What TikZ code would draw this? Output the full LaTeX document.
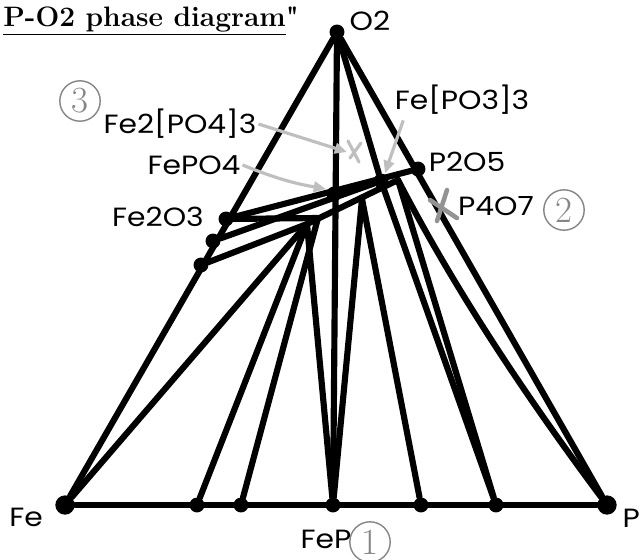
\documentclass[tikz,border=0pt]{standalone}
\usepackage{fontspec}
\usepackage{tikz}
\usetikzlibrary{arrows.meta, positioning, calc}
\newfontfamily\labelfont[FakeStretch=1.13]{Poppins}
\tikzset{
  phase_dot/.style={circle, fill=black, inner sep=0pt, minimum size=8.5pt},
  vertex_dot/.style={circle, fill=black, inner sep=0pt, minimum size=11pt},
  tie_line/.style={line width=3.5pt, line cap=round, line join=round},
  phase_label/.style={font=\labelfont\fontsize{15}{17}\selectfont, inner sep=1pt},
  title_text/.style={font=\fontsize{16}{18}\selectfont\bfseries, anchor=west, inner sep=0pt},
  circ_num/.style={circle, draw=gray!95, line width=0.8pt, minimum size=23pt, inner sep=0pt, text=gray!95, font=\fontsize{21}{21}\selectfont},
  pointer/.style={-{Triangle[length=7pt,width=6pt]}, line width=1.8pt, draw=gray!50},
  cross_mark/.style={line width=1.8pt, line cap=round, draw=gray!50},
  cross_dark/.style={line width=2.6pt, line cap=round, draw=gray!85}
}

\begin{document}
\begin{tikzpicture}[x=0.02cm, y=-0.02cm]
  \useasboundingbox (0,0) rectangle (642,559);

  % --- Title ---
  \node[title_text] (title) at (3,21) {\underline{P-O2 phase diagram}\textquotedbl};

  % --- Corners ---
  \node[phase_dot] (O2) at (337,32) {};
  \node[vertex_dot] (Fe) at (65,505) {};
  \node[vertex_dot] (P) at (607,505) {};

  % --- Fe-P side ---
  \node[phase_dot] (FeP) at (333,505) {};
  \node[phase_dot] (b1) at (197,505) {};
  \node[phase_dot] (b2) at (241,505) {};
  \node[phase_dot] (b4) at (421,505) {};
  \node[phase_dot] (b5) at (496,505) {};

  % --- Fe-O2 side ---
  \node[phase_dot] (Fe2O3) at (226,219) {};
  \node[phase_dot] (l2) at (213,241) {};
  \node[phase_dot] (l3) at (201,265) {};

  % --- P-O2 side ---
  \node[phase_dot] (P2O5) at (418,169) {};

  % --- Inner phases ---
  \node[phase_dot] (FePO4) at (334,194) {};
  \node[phase_dot] (FePO33) at (381,181) {};
  \coordinate (c1) at (307,224);
  \coordinate (c2) at (318,218);
  \coordinate (c4) at (362,199);
  \coordinate (c5) at (398,180);

  % --- Tie lines ---
  \foreach \a/\b in {O2/Fe, O2/P, Fe/P, O2/FeP, O2/FePO33,
                     Fe2O3/P2O5, Fe2O3/c2, l2/FePO33, l3/c1, c1/c5,
                     Fe/c1, b1/c1, b2/c2, FeP/c1, FeP/c4,
                     b4/c4, b5/FePO33, b5/c5} {
    \draw[tie_line] (\a) -- (\b);
  }
  \draw[tie_line] (c5) .. controls (455,290) and (525,395) .. (P);

  % --- Labels ---
  \node[phase_label] (lO2) at (370,21) {O2};
  \node[phase_label] (lFe) at (26,517) {Fe};
  \node[phase_label, anchor=east] (lP) at (642,518) {P};
  \node[phase_label] (lFeP) at (326,539) {FeP};
  \node[phase_label] (lFe2O3) at (158,217) {Fe2O3};
  \node[phase_label] (lFePO4) at (194,165) {FePO4};
  \node[phase_label] (lFe2PO43) at (180,124) {Fe2[PO4]3};
  \node[phase_label] (lFePO33) at (462,100) {Fe[PO3]3};
  \node[phase_label] (lP2O5) at (467,162) {P2O5};
  \node[phase_label] (lP4O7) at (496,206) {P4O7};

  % --- Circled numbers ---
  \node[circ_num] (n1) at (370,542) {1};
  \node[circ_num] (n2) at (564,210) {2};
  \node[circ_num] (n3) at (80,101) {3};

  % --- Pointers ---
  \coordinate (tFe2PO43) at (347,152);
  \coordinate (tFePO4) at (326,189);
  \coordinate (tFePO33) at (385,173);
  \draw[pointer] (lFe2PO43.east) -- (tFe2PO43);
  \draw[pointer] (lFePO4.east) to[bend right=6] (tFePO4);
  \draw[pointer] ([xshift=6pt,yshift=-2pt]lFePO33.south west) -- (tFePO33);

  % --- Crossed out phases ---
  \draw[cross_mark] (348,141) -- (359,162);
  \draw[cross_mark] (361,143) -- (350,158);
  \draw[cross_dark] (430,200) -- (457,218);
  \draw[cross_dark] (447,190) -- (437,221);
\end{tikzpicture}
\end{document}
